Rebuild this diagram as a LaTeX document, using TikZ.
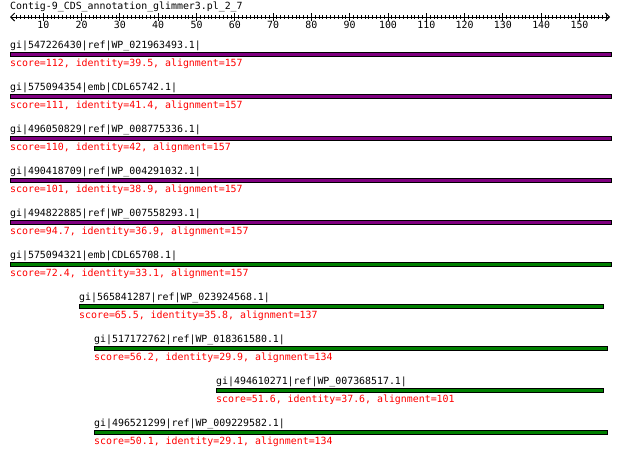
\documentclass[tikz,border=0pt]{standalone}
\usepackage{fontspec}
\setmonofont{DejaVu Sans Mono}
\usetikzlibrary{arrows.meta}
\definecolor{barpurple}{HTML}{800080}
\definecolor{bargreen}{HTML}{008000}
\tikzset{
  lbl/.style={anchor=base west, inner sep=0pt, font=\ttfamily\fontsize{9.9}{10}\selectfont},
  scr/.style={lbl, text=red},
  ticklbl/.style={anchor=base, inner sep=0pt, font=\ttfamily\fontsize{9.9}{10}\selectfont},
  barP/.style={draw=black, line width=1pt, fill=barpurple},
  barG/.style={draw=black, line width=1pt, fill=bargreen},
  rulerline/.style={line width=1pt, {Straight Barb[length=4pt,width=8pt]}-{Straight Barb[length=4pt,width=8pt]}},
  tickline/.style={line width=0.9pt},
}
\newcommand{\hitrow}[7]{%
  \path[#5] (#3,#2-1.8) rectangle (#4,#2+1.8);
  \node[lbl] (#1l) at (#3,#2-6) {#6};
  \node[scr] (#1s) at (#3,#2+12.5) {#7};
}
\begin{document}
\begin{tikzpicture}[x=1pt,y=-1pt]
\useasboundingbox (0,0) rectangle (620,461);
\node[lbl] (title) at (10,9) {Contig-9\_CDS\_annotation\_glimmer3.pl\_2\_7};
\coordinate (rl) at (10,17);
\coordinate (rr) at (610,17);
\draw[rulerline] (rl) -- (rr);
\foreach \p in {3,...,157} \draw[tickline] (5+3.83*\p,15) -- (5+3.83*\p,19.3);
\foreach \p in {10,20,...,150} {
  \draw[tickline] (5+3.83*\p,13.3) -- (5+3.83*\p,20.7);
  \node[ticklbl] (t\p) at (5+3.83*\p,28.5) {\p};
}
\hitrow{a}{54.3}{10}{611}{barP}{gi|547226430|ref|WP\_021963493.1|}{score=112, identity=39.5, alignment=157}
\hitrow{b}{96.3}{10}{611}{barP}{gi|575094354|emb|CDL65742.1|}{score=111, identity=41.4, alignment=157}
\hitrow{c}{138.3}{10}{611}{barP}{gi|496050829|ref|WP\_008775336.1|}{score=110, identity=42, alignment=157}
\hitrow{d}{180.3}{10}{611}{barP}{gi|490418709|ref|WP\_004291032.1|}{score=101, identity=38.9, alignment=157}
\hitrow{e}{222.3}{10}{611}{barP}{gi|494822885|ref|WP\_007558293.1|}{score=94.7, identity=36.9, alignment=157}
\hitrow{f}{264.3}{10}{611}{barG}{gi|575094321|emb|CDL65708.1|}{score=72.4, identity=33.1, alignment=157}
\hitrow{g}{306.3}{79}{603}{barG}{gi|565841287|ref|WP\_023924568.1|}{score=65.5, identity=35.8, alignment=137}
\hitrow{h}{348.3}{94}{607}{barG}{gi|517172762|ref|WP\_018361580.1|}{score=56.2, identity=29.9, alignment=134}
\hitrow{i}{390.3}{216}{603}{barG}{gi|494610271|ref|WP\_007368517.1|}{score=51.6, identity=37.6, alignment=101}
\hitrow{j}{432.3}{94}{607}{barG}{gi|496521299|ref|WP\_009229582.1|}{score=50.1, identity=29.1, alignment=134}
\end{tikzpicture}
\end{document}
